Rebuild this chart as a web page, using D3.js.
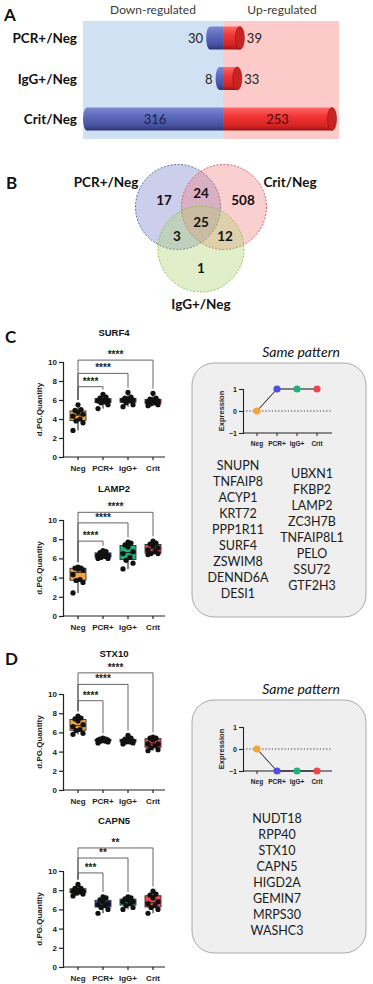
<!DOCTYPE html>
<html><head><meta charset="utf-8">
<script src="https://cdn.jsdelivr.net/npm/d3@7/dist/d3.min.js"></script>
<style>body{margin:0;background:#fff}svg{display:block}</style>
</head><body><svg id="fig" width="373" height="984"></svg>
<script>
// ---------- DATA ----------
// Panel A
const comparisons = ["PCR+/Neg", "IgG+/Neg", "Crit/Neg"];
const downRegulated = [30, 8, 316];
const upRegulated = [39, 33, 253];
const directionLabels = ["Down-regulated", "Up-regulated"];
// Panel B
const vennSetNames = ["PCR+/Neg", "Crit/Neg", "IgG+/Neg"];
const vennRegions = ["PCR only", "PCR&Crit", "Crit only", "All", "PCR&IgG", "Crit&IgG", "IgG only"];
const vennCounts = [17, 24, 508, 25, 3, 12, 1];
// Panels C/D
const groups = ["Neg", "PCR+", "IgG+", "Crit"];
const surf4Values = [
  [2.8, 3.6, 3.8, 4.0, 4.3, 4.5, 4.7, 4.9, 5.0, 5.5],
  [5.1, 5.5, 5.7, 5.8, 5.9, 5.9, 6.0, 6.2, 6.3, 6.6],
  [5.3, 5.5, 5.7, 5.9, 6.0, 6.0, 6.1, 6.2, 6.3, 6.8],
  [5.4, 5.5, 5.6, 5.7, 5.8, 5.9, 6.0, 6.1, 6.2, 6.7]];
const surf4Stars = ["****", "****", "****"];
const lamp2Values = [
  [2.4, 3.5, 3.7, 3.8, 4.3, 4.8, 4.9, 5.0, 5.0, 5.1],
  [6.0, 6.0, 6.1, 6.2, 6.3, 6.3, 6.5, 6.6, 6.7, 6.8],
  [4.9, 5.5, 5.8, 6.1, 6.5, 6.7, 7.2, 7.4, 7.6, 7.7],
  [6.4, 6.5, 6.5, 6.7, 6.9, 7.1, 7.3, 7.5, 7.6, 7.8]];
const lamp2Stars = ["****", "****", "****"];
const stx10Values = [
  [5.8, 5.9, 6.2, 6.3, 6.6, 6.8, 7.2, 7.4, 7.5, 7.7],
  [4.9, 5.0, 5.1, 5.1, 5.2, 5.2, 5.2, 5.3, 5.3, 5.4],
  [4.8, 4.9, 5.0, 5.0, 5.1, 5.1, 5.2, 5.3, 5.4, 5.7],
  [4.1, 4.2, 4.4, 4.6, 4.8, 4.8, 5.2, 5.4, 5.4, 5.5]];
const stx10Stars = ["****", "****", "****"];
const capn5Values = [
  [7.4, 7.6, 7.7, 7.8, 7.9, 7.9, 8.0, 8.2, 8.2, 8.6],
  [5.6, 6.0, 6.2, 6.4, 6.5, 6.6, 6.8, 7.0, 7.2, 7.3],
  [6.0, 6.2, 6.4, 6.6, 6.8, 6.8, 7.0, 7.1, 7.2, 7.3],
  [5.6, 6.0, 6.2, 6.4, 6.6, 6.8, 7.2, 7.5, 7.6, 7.9]];
const capn5Stars = ["***", "**", "**"];
const yTicks = [0, 2, 4, 6, 8, 10];
const upPattern = [0, 1, 1, 1];
const downPattern = [0, -1, -1, -1];
const patternTicks = [-1, 0, 1];
const upGenesLeft = ["SNUPN", "TNFAIP8", "ACYP1", "KRT72", "PPP1R11", "SURF4", "ZSWIM8", "DENND6A", "DESI1"];
const upGenesRight = ["UBXN1", "FKBP2", "LAMP2", "ZC3H7B", "TNFAIP8L1", "PELO", "SSU72", "GTF2H3"];
const downGenes = ["NUDT18", "RPP40", "STX10", "CAPN5", "HIGD2A", "GEMIN7", "MRPS30", "WASHC3"];

// ---------- STYLE ----------
const SANS = "Lato, 'Open Sans', sans-serif";
const PRISM = "'Liberation Sans', Arial, sans-serif";
const groupColors = d3.scaleOrdinal().domain(groups).range(["#F5A43C", "#4F4FE3", "#1FB27A", "#EF4650"]);

const svg = d3.select("#fig");
const defs = svg.append("defs");
function vgrad(id, stops) {
  const g = defs.append("linearGradient").attr("id", id).attr("x1", 0).attr("y1", 0).attr("x2", 0).attr("y2", 1);
  stops.forEach(s => g.append("stop").attr("offset", s[0]).attr("stop-color", s[1]));
}
vgrad("blueG", [["0%", "#7d89cf"], ["35%", "#5f6cbf"], ["80%", "#46519f"], ["100%", "#2d3575"]]);
vgrad("redG", [["0%", "#ff6a6a"], ["35%", "#f43737"], ["80%", "#d42424"], ["100%", "#9a1414"]]);

function panelLetter(t, x, y) {
  svg.append("text").attr("x", x).attr("y", y).text(t)
    .attr("font-family", SANS).attr("font-weight", 700).attr("font-size", 17).attr("fill", "#111");
}

// ---------- PANEL A ----------
(function () {
  const g = svg.append("g");
  const xA = d3.scaleLinear().domain([-316, 253]).range([87, 332]);
  const yA = d3.scalePoint().domain(comparisons).range([38, 119]);
  const x0 = xA(0);
  g.append("rect").attr("x", 83).attr("y", 21).attr("width", x0 - 83).attr("height", 118).attr("fill", "#cfe1f2");
  g.append("rect").attr("x", x0).attr("y", 21).attr("width", 339 - x0).attr("height", 118).attr("fill", "#fdcaca");
  g.selectAll(".hdr").data(directionLabels).join("text")
    .attr("x", (d, i) => i === 0 ? 153 : 282).attr("y", 14).attr("text-anchor", "middle")
    .attr("font-family", SANS).attr("font-size", 12).attr("fill", "#3a3a3a").text(d => d);
  const h = 23;
  comparisons.forEach((c, i) => {
    const cy = yA(c), d = downRegulated[i], u = upRegulated[i];
    const xl = xA(-d), xr = xA(u);
    g.append("text").attr("x", 77).attr("y", cy + 5).attr("text-anchor", "end")
      .attr("font-family", SANS).attr("font-weight", 700).attr("font-size", 13.5).attr("fill", "#111").text(c);
    g.append("ellipse").attr("cx", xl).attr("cy", cy).attr("rx", 4).attr("ry", h / 2).attr("fill", "url(#blueG)");
    g.append("rect").attr("x", xl).attr("y", cy - h / 2).attr("width", x0 - xl).attr("height", h).attr("fill", "url(#blueG)");
    g.append("rect").attr("x", x0).attr("y", cy - h / 2).attr("width", xr - x0).attr("height", h).attr("fill", "url(#redG)");
    g.append("ellipse").attr("cx", xr).attr("cy", cy).attr("rx", 4.5).attr("ry", h / 2).attr("fill", "#c92424").attr("stroke", "#8f1313").attr("stroke-width", 0.6);
    const inside = (x0 - xl) > 40;
    g.append("text").attr("x", inside ? (xl + x0) / 2 : xl - 7).attr("y", cy + 5)
      .attr("text-anchor", inside ? "middle" : "end").attr("font-family", SANS).attr("font-size", 13)
      .attr("fill", inside ? "#1c2150" : "#222").text(d);
    g.append("text").attr("x", inside ? (x0 + xr) / 2 : xr + 7).attr("y", cy + 5)
      .attr("text-anchor", inside ? "middle" : "start").attr("font-family", SANS).attr("font-size", 13)
      .attr("fill", inside ? "#4a0a0a" : "#222").text(u);
  });
  panelLetter("A", 4, 21);
})();

// ---------- PANEL B ----------
(function () {
  const g = svg.append("g");
  const circles = [
    { name: vennSetNames[0], cx: 178, cy: 207, r: 42.5, fill: "#6f7bcb", stroke: "#4a5699" },
    { name: vennSetNames[1], cx: 224, cy: 207, r: 42.5, fill: "#f27a7a", stroke: "#cf4b4b" },
    { name: vennSetNames[2], cx: 201, cy: 249, r: 43, fill: "#a9d46a", stroke: "#86bb3e" }];
  g.selectAll("circle").data(circles).join("circle")
    .attr("cx", d => d.cx).attr("cy", d => d.cy).attr("r", d => d.r)
    .attr("fill", d => d.fill).attr("fill-opacity", 0.36)
    .attr("stroke", d => d.stroke).attr("stroke-width", 0.9).attr("stroke-dasharray", "2,1.5");
  const labelPos = [[106, 187], [290, 187], [201, 309]];
  g.selectAll(".vl").data(circles).join("text")
    .attr("x", (d, i) => labelPos[i][0]).attr("y", (d, i) => labelPos[i][1]).attr("text-anchor", "middle")
    .attr("font-family", SANS).attr("font-weight", 700).attr("font-size", 13.5).attr("fill", "#111").text(d => d.name);
  const regionPos = [[164, 200], [201, 193], [243, 200], [201, 222], [177, 236], [225, 236], [201, 268]];
  g.selectAll(".vc").data(vennCounts).join("text")
    .attr("x", (d, i) => regionPos[i][0]).attr("y", (d, i) => regionPos[i][1] + 5).attr("text-anchor", "middle")
    .attr("font-family", SANS).attr("font-weight", 700).attr("font-size", 13.5).attr("fill", "#111").text(d => d);
  panelLetter("B", 6, 189);
})();

// ---------- BOX CHARTS ----------
function boxChart(cfg) {
  const g = svg.append("g");
  const y = d3.scaleLinear().domain([0, 10]).range([cfg.y0, cfg.y10]);
  const x = d3.scalePoint().domain(groups).range([78, 153]);
  g.append("text").attr("x", 114).attr("y", cfg.titleY).attr("text-anchor", "middle")
    .attr("font-family", PRISM).attr("font-weight", 700).attr("font-size", 9.5).attr("fill", "#111").text(cfg.title);
  const ya = g.append("g").attr("transform", "translate(63,0)")
    .call(d3.axisLeft(y).tickValues(yTicks).tickSize(4).tickPadding(2).tickFormat(d3.format("d")));
  ya.select(".domain").attr("stroke", "#222").attr("stroke-width", 1.2);
  ya.selectAll(".tick line").attr("stroke", "#222").attr("stroke-width", 1.2);
  ya.selectAll("text").attr("font-family", PRISM).attr("font-weight", 700).attr("font-size", 8).attr("fill", "#222");
  const xs = d3.scaleLinear().domain([0, 1]).range([63, 165]);
  g.append("line").attr("x1", 63).attr("x2", 165).attr("y1", cfg.y0).attr("y2", cfg.y0).attr("stroke", "#222").attr("stroke-width", 1.2);
  groups.forEach(gr => {
    g.append("line").attr("x1", x(gr)).attr("x2", x(gr)).attr("y1", cfg.y0).attr("y2", cfg.y0 + 3).attr("stroke", "#222").attr("stroke-width", 1.2);
    g.append("text").attr("x", x(gr)).attr("y", cfg.y0 + 14).attr("text-anchor", "middle")
      .attr("font-family", PRISM).attr("font-weight", 700).attr("font-size", 8).attr("fill", "#222").text(gr);
  });
  g.append("text").attr("transform", `translate(42,${(cfg.y0 + cfg.y10) / 2}) rotate(-90)`).attr("text-anchor", "middle")
    .attr("font-family", PRISM).attr("font-weight", 700).attr("font-size", 8).attr("fill", "#222").text("d.PG.Quantity");
  const bw = 16;
  const jitter = [-5, 5, -2, 2, -5, 5, 0, -3, 3, 0];
  cfg.values.forEach((vals, i) => {
    const s = vals.slice().sort(d3.ascending);
    const q1 = d3.quantile(s, 0.25), med = d3.quantile(s, 0.5), q3 = d3.quantile(s, 0.75);
    const mn = d3.min(s), mx = d3.max(s);
    const cx = x(groups[i]);
    g.append("line").attr("x1", cx).attr("x2", cx).attr("y1", y(mn)).attr("y2", y(mx)).attr("stroke", "#111").attr("stroke-width", 1);
    g.append("rect").attr("x", cx - bw / 2).attr("y", y(q3)).attr("width", bw).attr("height", y(q1) - y(q3))
      .attr("fill", groupColors(groups[i])).attr("stroke", "#222").attr("stroke-width", 0.8);
    g.append("line").attr("x1", cx - bw / 2).attr("x2", cx + bw / 2).attr("y1", y(med)).attr("y2", y(med)).attr("stroke", "#222").attr("stroke-width", 1);
    g.selectAll(null).data(s).join("circle")
      .attr("cx", (d, j) => cx + jitter[j % jitter.length]).attr("cy", d => y(d)).attr("r", 2.6).attr("fill", "#111");
  });
  // significance brackets
  const negMax = d3.max(cfg.values[0]);
  cfg.stars.forEach((st, k) => {
    const tgt = k + 1, lv = y(cfg.levels[k]);
    const x1 = x(groups[0]), x2 = x(groups[tgt]);
    const yl = y(negMax + 0.5), yr = y(d3.max(cfg.values[tgt]) + 0.5);
    g.append("path").attr("d", `M${x1},${yl}V${lv}H${x2}V${yr}`).attr("fill", "none").attr("stroke", "#555").attr("stroke-width", 0.9);
    g.append("text").attr("x", (x1 + x2) / 2).attr("y", lv - 2).attr("text-anchor", "middle")
      .attr("font-family", PRISM).attr("font-weight", 700).attr("font-size", 10).attr("fill", "#222").text(st);
  });
}

boxChart({ title: "SURF4", values: surf4Values, stars: surf4Stars, levels: [7.4, 8.8, 10.2], y0: 457, y10: 362, titleY: 336 });
boxChart({ title: "LAMP2", values: lamp2Values, stars: lamp2Stars, levels: [7.8, 9.7, 10.8], y0: 616, y10: 520, titleY: 492 });
boxChart({ title: "STX10", values: stx10Values, stars: stx10Stars, levels: [9.3, 11.0, 12.2], y0: 790, y10: 694, titleY: 657 });
boxChart({ title: "CAPN5", values: capn5Values, stars: capn5Stars, levels: [9.8, 11.35, 12.4], y0: 967, y10: 871, titleY: 824 });
panelLetter("C", 5, 343);
panelLetter("D", 5, 665);

// ---------- PATTERN PANELS ----------
function patternPanel(cfg) {
  const g = svg.append("g");
  g.append("rect").attr("x", 192).attr("y", cfg.boxTop).attr("width", 174).attr("height", cfg.boxBottom - cfg.boxTop)
    .attr("rx", 22).attr("fill", "#efefef").attr("stroke", "#a8a8a8").attr("stroke-width", 1);
  g.append("text").attr("x", 301).attr("y", cfg.boxTop - 6).attr("text-anchor", "middle")
    .attr("font-family", SANS).attr("font-style", "italic").attr("font-size", 14).attr("fill", "#111").text("Same pattern");
  const y = d3.scaleLinear().domain([-1, 1]).range([cfg.yBottom, cfg.yBottom - 44]);
  const x = d3.scalePoint().domain(groups).range([257, 317]);
  g.append("line").attr("x1", 243).attr("x2", 332).attr("y1", y(0)).attr("y2", y(0))
    .attr("stroke", "#333").attr("stroke-width", 1).attr("stroke-dasharray", "1.2,2");
  const ya = g.append("g").attr("transform", "translate(243,0)")
    .call(d3.axisLeft(y).tickValues(patternTicks).tickSize(4).tickPadding(2).tickFormat(d3.format("d")));
  ya.select(".domain").attr("stroke", "#222").attr("stroke-width", 1.1);
  ya.selectAll(".tick line").attr("stroke", "#222").attr("stroke-width", 1.1);
  ya.selectAll("text").attr("font-family", PRISM).attr("font-weight", 700).attr("font-size", 7).attr("fill", "#222");
  g.append("line").attr("x1", 243).attr("x2", 332).attr("y1", y(-1)).attr("y2", y(-1)).attr("stroke", "#222").attr("stroke-width", 1.1);
  groups.forEach(gr => {
    g.append("line").attr("x1", x(gr)).attr("x2", x(gr)).attr("y1", y(-1)).attr("y2", y(-1) + 3).attr("stroke", "#222").attr("stroke-width", 1);
    g.append("text").attr("x", x(gr)).attr("y", y(-1) + 13).attr("text-anchor", "middle")
      .attr("font-family", PRISM).attr("font-weight", 700).attr("font-size", 6.5).attr("fill", "#222").text(gr);
  });
  g.append("text").attr("transform", `translate(224,${y(0)}) rotate(-90)`).attr("text-anchor", "middle")
    .attr("font-family", PRISM).attr("font-weight", 700).attr("font-size", 7.5).attr("fill", "#222").text("Expression");
  const line = d3.line().x((d, i) => x(groups[i])).y(d => y(d));
  g.append("path").attr("d", line(cfg.pattern)).attr("fill", "none").attr("stroke", "#111").attr("stroke-width", 1);
  g.selectAll(null).data(cfg.pattern).join("circle")
    .attr("cx", (d, i) => x(groups[i])).attr("cy", d => y(d)).attr("r", 3.6).attr("fill", (d, i) => groupColors(groups[i]));
  cfg.lists.forEach(L => {
    g.selectAll(null).data(L.genes).join("text")
      .attr("x", L.x).attr("y", (d, i) => L.y0 + i * 16 + 4.5).attr("text-anchor", "middle")
      .attr("font-family", SANS).attr("font-size", 12.5).attr("fill", "#1a1a1a").text(d => d);
  });
}
patternPanel({ boxTop: 363, boxBottom: 617, yBottom: 433, pattern: upPattern,
  lists: [{ genes: upGenesLeft, x: 238, y0: 465 }, { genes: upGenesRight, x: 312, y0: 473 }] });
patternPanel({ boxTop: 700, boxBottom: 953, yBottom: 771, pattern: downPattern,
  lists: [{ genes: downGenes, x: 277, y0: 818 }] });
</script></body></html>
